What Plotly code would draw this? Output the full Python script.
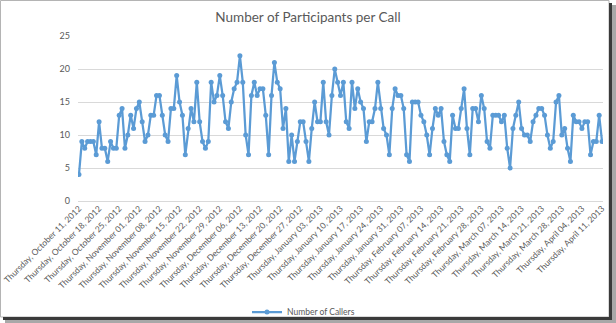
import pandas as pd
import plotly.graph_objects as go

# Daily participant counts, starting Thursday 11 Oct 2012
start_date = "2012-10-11"
callers = [
    4, 9, 8, 9, 9, 9, 7, 12, 8, 8, 6, 9, 8, 8, 13, 14, 8, 10, 13, 11,
    14, 15, 12, 9, 10, 13, 13, 16, 16, 13, 10, 9, 14, 14, 19, 15, 13, 7, 11, 14,
    12, 18, 12, 9, 8, 9, 18, 15, 16, 19, 16, 12, 11, 15, 17, 18, 22, 18, 10, 7,
    16, 18, 16, 17, 17, 13, 7, 16, 21, 18, 17, 11, 14, 6, 10, 6, 9, 12, 12, 9,
    6, 11, 15, 12, 12, 18, 12, 10, 16, 20, 18, 16, 18, 12, 11, 18, 14, 17, 15, 14,
    9, 12, 12, 14, 18, 14, 11, 10, 7, 14, 17, 16, 16, 14, 7, 6, 15, 15, 15, 13,
    12, 10, 7, 11, 14, 13, 14, 9, 7, 6, 13, 11, 11, 14, 17, 11, 7, 14, 14, 12,
    16, 14, 9, 8, 13, 13, 13, 12, 13, 8, 5, 11, 13, 15, 11, 10, 10, 9, 12, 13,
    14, 14, 13, 10, 8, 9, 15, 16, 10, 11, 8, 6, 13, 12, 12, 11, 12, 12, 7, 9,
    9, 13, 9,
]
dates = pd.date_range(start_date, periods=len(callers), freq="D")
week_ticks = pd.date_range(start_date, dates[-1], freq="7D")
y_ticks = [0, 5, 10, 15, 20, 25]

W, H = 616, 323
L, R, T, B = 78, 13, 36, 122
PW, PH = W - L - R, H - T - B


def px(x):
    return (x - L) / PW


def py(y):
    return (H - B - y) / PH


blue = "#5B9BD5"
grey_text = "#595959"
grid = "#D9D9D9"

fig = go.Figure(
    go.Scatter(
        x=dates,
        y=callers,
        mode="lines+markers",
        name="Number of Callers",
        line=dict(color=blue, width=2.25),
        marker=dict(color=blue, size=5, symbol="circle"),
    )
)

pad = pd.Timedelta(hours=8)
fig.update_xaxes(
    type="date",
    range=[dates[0] - pad, dates[-1] + pad],
    tickvals=week_ticks,
    tickformat="%A, %B %d, %Y",
    tickangle=-45,
    showgrid=False,
    zeroline=False,
    showline=False,
    ticks="",
    automargin=False,
    tickfont=dict(family="Lato", size=8.5, color=grey_text),
)
fig.update_yaxes(
    range=[0, 25],
    tickvals=y_ticks,
    showgrid=True,
    gridcolor=grid,
    gridwidth=1,
    zeroline=True,
    zerolinecolor=grid,
    zerolinewidth=1,
    showline=False,
    ticks="",
    automargin=False,
    ticklabelstandoff=7,
    tickfont=dict(family="Lato", size=9, color=grey_text),
)

# window frame with a drop shadow along the right and bottom edges
shapes = [
    dict(type="rect", xref="paper", yref="paper",
         x0=px(0.5), x1=px(609), y0=py(0.5), y1=py(317),
         line=dict(color="#B4B4B4", width=1), fillcolor="rgba(0,0,0,0)"),
    dict(type="rect", xref="paper", yref="paper",
         x0=px(609), x1=px(612), y0=py(3), y1=py(320),
         line=dict(width=0), fillcolor="#3A3A3A"),
    dict(type="rect", xref="paper", yref="paper",
         x0=px(612), x1=px(616), y0=py(5), y1=py(322),
         line=dict(width=0), fillcolor="#A8A8A8"),
    dict(type="rect", xref="paper", yref="paper",
         x0=px(3), x1=px(612), y0=py(317), y1=py(320),
         line=dict(width=0), fillcolor="#3A3A3A"),
    dict(type="rect", xref="paper", yref="paper",
         x0=px(5), x1=px(616), y0=py(320), y1=py(323),
         line=dict(width=0), fillcolor="#A8A8A8"),
]

fig.update_layout(
    width=W,
    height=H,
    margin=dict(l=L, r=R, t=T, b=B, pad=0, autoexpand=False),
    paper_bgcolor="white",
    plot_bgcolor="white",
    title=dict(
        text="Number of Participants per Call",
        x=308 / W, xref="container", xanchor="center",
        y=1 - 17 / H, yanchor="middle",
        font=dict(family="Lato", size=13.5, color=grey_text),
    ),
    showlegend=True,
    legend=dict(
        orientation="h",
        xref="container", yref="container",
        x=247 / W, xanchor="left",
        y=1 - 312 / H, yanchor="middle",
        font=dict(family="Lato", size=8.5, color=grey_text),
        bgcolor="rgba(0,0,0,0)",
    ),
    shapes=shapes,
)

fig.write_html("out.html")
